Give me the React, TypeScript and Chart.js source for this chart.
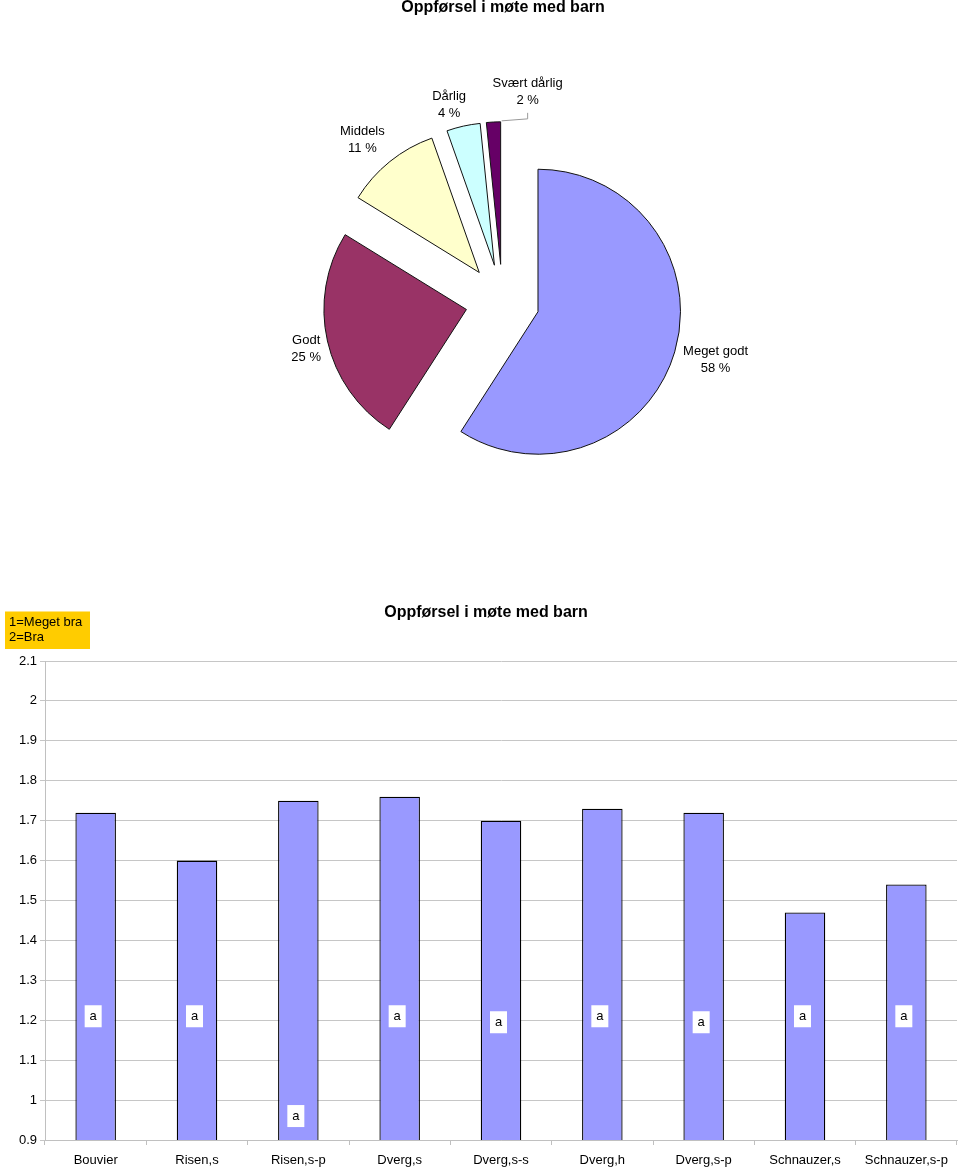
import React, { useEffect, useRef } from "react";
import { Chart, registerables } from "chart.js";

Chart.register(...registerables);

// ---------- data ----------
const chartTitle = "Oppførsel i møte med barn";

const pieCategories = ["Meget godt", "Godt", "Middels", "Dårlig", "Svært dårlig"];
const pieShares = [59.1, 24.7, 10.8, 3.8, 1.6];
const piePercentLabels = ["58 %", "25 %", "11 %", "4 %", "2 %"];
const pieColors = ["#9999FF", "#993366", "#FFFFCC", "#CCFFFF", "#660066"];

const barCategories = [
  "Bouvier",
  "Risen,s",
  "Risen,s-p",
  "Dverg,s",
  "Dverg,s-s",
  "Dverg,h",
  "Dverg,s-p",
  "Schnauzer,s",
  "Schnauzer,s-p",
];
const barValues = [1.72, 1.6, 1.75, 1.76, 1.7, 1.73, 1.72, 1.47, 1.54];
const letterLabels = ["a", "a", "a", "a", "a", "a", "a", "a", "a"];
const letterLevels = [1.21, 1.21, 0.96, 1.21, 1.195, 1.21, 1.195, 1.21, 1.21];
const yMin = 0.9;
const yMax = 2.1;
const yStep = 0.1;
const scaleNote = ["1=Meget bra", "2=Bra"];

// ---------- styling ----------
const FONT = "'Liberation Sans', Arial, Helvetica, sans-serif";
const EXPLODE = 37;
const RADIUS = 142.5;
const PIE_H = 590;
const BAR_TOP = 595;
const BAR_H = 1169 - BAR_TOP;

// Keep every exploded slice at the same radius and true angle
const pieFixPlugin = {
  id: "pieFix",
  beforeDatasetsDraw(chart: any) {
    const meta = chart.getDatasetMeta(0);
    meta.data.forEach((el: any) => {
      const c = el.circumference;
      const fix = 1 - Math.sin(Math.min(Math.PI, c || 0));
      const ro = EXPLODE * fix;
      el.outerRadius = RADIUS - ro;
      const mid = el.startAngle + c / 2;
      const widen = ro / Math.PI / RADIUS / 2;
      el.startAngle = mid - c / 2 - widen;
      el.endAngle = mid + c / 2 + widen;
    });
  },
};

const pieLabelPlugin = {
  id: "pieLabels",
  afterDraw(chart: any) {
    const ctx = chart.ctx;
    ctx.save();
    ctx.fillStyle = "#000";
    ctx.textAlign = "center";
    ctx.textBaseline = "middle";
    ctx.font = `bold 16px ${FONT}`;
    ctx.fillText(chartTitle, 503, 8);

    ctx.font = `13px ${FONT}`;
    const lineH = 17;
    const gaps = [8, 7, 15, 7];
    const nudges = [
      [2, 1],
      [0, 3],
      [-4, 3],
      [-9, 2],
    ];
    const meta = chart.getDatasetMeta(0);
    meta.data.forEach((el: any, i: number) => {
      const mid = (el.startAngle + el.endAngle) / 2;
      const endA = mid + el.circumference / 2;
      const dx = Math.cos(mid);
      const dy = Math.sin(mid);
      const vx = el.x + dx * EXPLODE;
      const vy = el.y + dy * EXPLODE;
      const l1 = pieCategories[i];
      const l2 = piePercentLabels[i];
      let cx: number, cy: number;
      if (i === 4) {
        const ex = vx + Math.cos(endA) * RADIUS;
        const ey = vy + Math.sin(endA) * RADIUS;
        cx = ex + 27;
        cy = ey - 29.5;
        ctx.save();
        ctx.strokeStyle = "#999";
        ctx.lineWidth = 1;
        ctx.beginPath();
        ctx.moveTo(ex + 1, ey - 1);
        ctx.lineTo(cx, ey - 3);
        ctx.lineTo(cx, ey - 9);
        ctx.stroke();
        ctx.restore();
      } else {
        const w = Math.max(ctx.measureText(l1).width, ctx.measureText(l2).width);
        const h = lineH * 2;
        const g = gaps[i];
        const px = vx + (RADIUS + g) * dx;
        const py = vy + (RADIUS + g) * dy;
        cx = px + (w / 2) * dx + nudges[i][0];
        cy = py + (h / 2) * dy + nudges[i][1];
      }
      ctx.fillText(l1, cx, cy - lineH / 2);
      ctx.fillText(l2, cx, cy + lineH / 2);
    });
    ctx.restore();
  },
};

const barDecorPlugin = {
  id: "barDecor",
  afterDraw(chart: any) {
    const ctx = chart.ctx;
    const xs = chart.scales.x;
    const ys = chart.scales.y;
    ctx.save();
    // title
    ctx.fillStyle = "#000";
    ctx.textAlign = "center";
    ctx.textBaseline = "middle";
    ctx.font = `bold 16px ${FONT}`;
    ctx.fillText(chartTitle, 486, 18);
    // yellow note box
    ctx.fillStyle = "#FFCC00";
    ctx.fillRect(5, 16.5, 85, 37.5);
    ctx.fillStyle = "#000";
    ctx.textAlign = "left";
    ctx.font = `13px ${FONT}`;
    ctx.fillText(scaleNote[0], 9, 27);
    ctx.fillText(scaleNote[1], 9, 42);
    // letter boxes
    ctx.textAlign = "center";
    letterLabels.forEach((lab, i) => {
      const x = xs.getPixelForValue(i) - 2.5;
      const y = ys.getPixelForValue(letterLevels[i]);
      ctx.fillStyle = "#fff";
      ctx.fillRect(x - 8.5, y - 11, 17, 22);
      ctx.fillStyle = "#000";
      ctx.fillText(lab, x, y);
    });
    ctx.restore();
  },
};

export default function App() {
  const pieRef = useRef<HTMLCanvasElement>(null);
  const barRef = useRef<HTMLCanvasElement>(null);

  useEffect(() => {
    const pie = new Chart(pieRef.current as HTMLCanvasElement, {
      type: "pie",
      data: {
        labels: pieCategories,
        datasets: [
          {
            data: pieShares,
            backgroundColor: pieColors,
            borderColor: "#111",
            borderWidth: 1,
            offset: EXPLODE * 4,
            radius: RADIUS,
          } as any,
        ],
      },
      options: {
        animation: false,
        responsive: false,
        events: [],
        radius: RADIUS,
        layout: { padding: { left: 45, right: 0, top: 12.6, bottom: 0 } },
        plugins: {
          legend: { display: false },
          tooltip: { enabled: false },
          title: { display: false },
        },
      } as any,
      plugins: [pieFixPlugin, pieLabelPlugin],
    });

    const bar = new Chart(barRef.current as HTMLCanvasElement, {
      type: "bar",
      data: {
        labels: barCategories,
        datasets: [
          {
            data: barValues,
            backgroundColor: "#9999FF",
            borderColor: "#000",
            borderWidth: 1.3,
            borderSkipped: false,
            barPercentage: 0.4,
            categoryPercentage: 1,
          } as any,
        ],
      },
      options: {
        animation: false,
        responsive: false,
        events: [],
        layout: { padding: { left: 0, right: 3, top: 66, bottom: 0 } },
        scales: {
          x: {
            grid: {
              display: true,
              drawOnChartArea: false,
              drawTicks: true,
              tickLength: 5,
              color: "#c0c0c0",
              offset: true,
            },
            border: { display: true, color: "#c0c0c0" },
            ticks: {
              color: "#000",
              font: { family: FONT, size: 13 },
              padding: 8,
              maxRotation: 0,
              autoSkip: false,
            },
            afterFit: (s: any) => {
              s.height = 29;
            },
          },
          y: {
            min: yMin,
            max: yMax,
            ticks: {
              stepSize: yStep,
              color: "#000",
              font: { family: FONT, size: 13 },
              padding: 3,
              callback: (v: any) => String(Math.round(Number(v) * 10) / 10),
            },
            grid: { color: "#c6c6c6", tickLength: 5 },
            border: { display: true, color: "#c0c0c0" },
            afterFit: (s: any) => {
              s.width = 45;
            },
          },
        },
        plugins: {
          legend: { display: false },
          tooltip: { enabled: false },
          title: { display: false },
        },
      } as any,
      plugins: [barDecorPlugin],
    });

    return () => {
      pie.destroy();
      bar.destroy();
    };
  }, []);

  return (
    <div style={{ position: "absolute", left: 0, top: 0, width: 960, height: 1169, background: "#fff" }}>
      <canvas
        ref={pieRef}
        width={960}
        height={PIE_H}
        style={{ position: "absolute", left: 0, top: 0, width: 960, height: PIE_H }}
      />
      <canvas
        ref={barRef}
        width={960}
        height={BAR_H}
        style={{ position: "absolute", left: 0, top: BAR_TOP, width: 960, height: BAR_H }}
      />
    </div>
  );
}
